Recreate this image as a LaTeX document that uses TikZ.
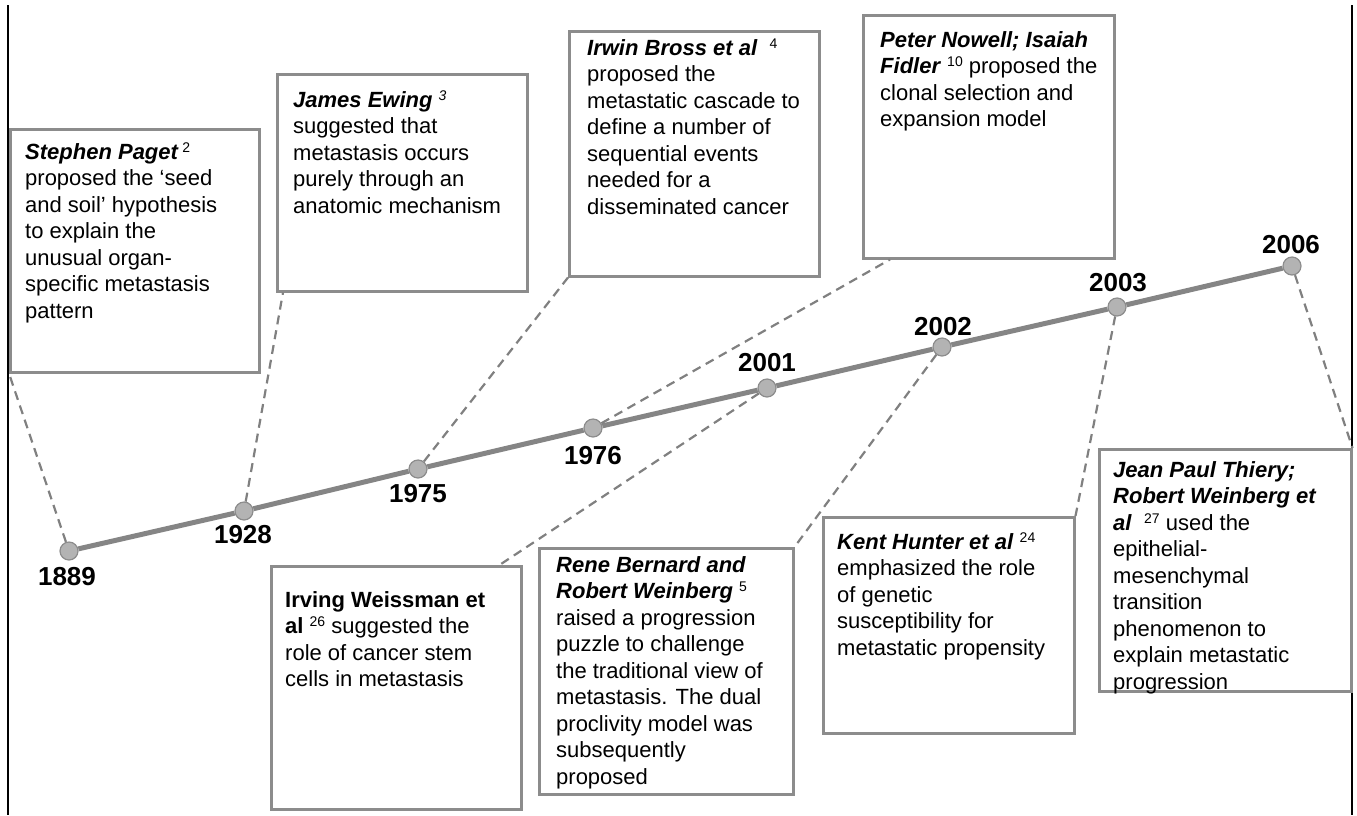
\documentclass[tikz,border=0pt]{standalone}
\usepackage{fontspec}
\setmainfont{Liberation Sans}
\usetikzlibrary{calc}
\definecolor{boxgray}{HTML}{8C8C8C}
\definecolor{linegray}{HTML}{858585}
\definecolor{dotfill}{HTML}{B3B3B3}
\definecolor{dotdraw}{HTML}{8C8C8C}
\definecolor{dashgray}{HTML}{808080}
\newcommand\refnum[1]{\raisebox{7pt}{\fontsize{14pt}{14pt}\selectfont #1}}
\newcommand\fs{\rule{0pt}{18pt}}
\tikzset{
  box/.style={draw=boxgray, line width=2.5pt, anchor=north west, inner sep=0, fill=none},
  txt/.style={anchor=north west, inner sep=0, align=left, font=\fontsize{22pt}{26.5pt}\selectfont},
  dot/.style={circle, fill=dotfill, draw=dotdraw, line width=1.2pt, minimum size=18pt, inner sep=0},
  year/.style={inner sep=0, font=\fontsize{26pt}{28pt}\selectfont\bfseries},
  timeline/.style={draw=linegray, line width=5pt},
  link/.style={draw=dashgray, line width=2.2pt, dash pattern=on 9pt off 6pt},
  edge/.style={draw=black, line width=1.6pt}
}
\begin{document}
\begin{tikzpicture}[x=1pt,y=-1pt]
\useasboundingbox (0,0) rectangle (1357,815);
\coordinate (lt) at (8,5);
\coordinate (lb) at (8,815);
\coordinate (rt) at (1352,5);
\coordinate (rb) at (1352,815);
\draw[edge] (lt) -- (lb);
\draw[edge] (rt) -- (rb);

% boxes
\node[box, minimum width=249pt, minimum height=243pt] (paget) at (9,128) {};
\node[box, minimum width=250pt, minimum height=217pt] (ewing) at (276,73) {};
\node[box, minimum width=250pt, minimum height=245pt] (bross) at (568,30) {};
\node[box, minimum width=251pt, minimum height=243pt] (nowell) at (862,14) {};
\node[box, minimum width=250pt, minimum height=243pt] (weissman) at (270,565) {};
\node[box, minimum width=254pt, minimum height=246pt] (bernard) at (538,547) {};
\node[box, minimum width=251pt, minimum height=216pt] (hunter) at (822,516) {};
\node[box, minimum width=252pt, minimum height=242pt] (thiery) at (1098,448) {};

% texts
\node[txt] (tpaget) at (25,141) {\fs\textbf{\textit{Stephen Paget}}\,\refnum{2}\\
proposed the ‘seed\\ and soil’ hypothesis\\ to explain the\\ unusual organ-\\ specific metastasis\\ pattern};
\node[txt] (tewing) at (293,89) {\fs\textbf{\textit{James Ewing}} \refnum{\textit{3}}\\
suggested that\\ metastasis occurs\\ purely through an\\ anatomic mechanism};
\node[txt] (tbross) at (587,37) {\fs\textbf{\textit{Irwin Bross et al}}\ \ \refnum{4}\\
proposed the\\ metastatic cascade to\\ define a number of\\ sequential events\\ needed for a\\ disseminated cancer};
\node[txt] (tnowell) at (880,29) {\fs\textbf{\textit{Peter Nowell; Isaiah}}\\
\textbf{\textit{Fidler}} \refnum{10} proposed the\\ clonal selection and\\ expansion model};
\node[txt] (tweissman) at (285,589) {\fs\textbf{Irving Weissman et}\\
\textbf{al} \refnum{26} suggested the\\ role of cancer stem\\ cells in metastasis};
\node[txt] (tbernard) at (556,554) {\fs\textbf{\textit{Rene Bernard and}}\\
\textbf{\textit{Robert Weinberg}} \refnum{5}\\ raised a progression\\ puzzle to challenge\\ the traditional view of\\ metastasis. The dual\\ proclivity model was\\ subsequently\\ proposed};
\node[txt] (thunter) at (837,531) {\fs\textbf{\textit{Kent Hunter et al}} \refnum{24}\\
emphasized the role\\ of genetic\\ susceptibility for\\ metastatic propensity};
\node[txt] (tthiery) at (1113,459) {\fs\textbf{\textit{Jean Paul Thiery;}}\\
\textbf{\textit{Robert Weinberg et}}\\ \textbf{\textit{al}}\ \ \refnum{27} used the\\ epithelial-\\ mesenchymal\\ transition\\ phenomenon to\\ explain metastatic\\ progression};

% timeline dots
\node[dot] (c1889) at (69,551) {};
\node[dot] (c1928) at (244,511) {};
\node[dot] (c1975) at (418,469) {};
\node[dot] (c1976) at (593,428) {};
\node[dot] (c2001) at (767,388) {};
\node[dot] (c2002) at (942,347) {};
\node[dot] (c2003) at (1117,307) {};
\node[dot] (c2006) at (1292,266) {};
\draw[timeline] (c1889) -- (c1928) -- (c1975) -- (c1976) -- (c2001) -- (c2002) -- (c2003) -- (c2006);

% year labels
\node[year] (l1889) at (67,577) {1889};
\node[year] (l1928) at (243,535) {1928};
\node[year] (l1975) at (418,494) {1975};
\node[year] (l1976) at (593,456) {1976};
\node[year] (l2001) at (767,363) {2001};
\node[year] (l2002) at (943,327) {2002};
\node[year] (l2003) at (1118,283) {2003};
\node[year] (l2006) at (1291,245) {2006};

% dashed connectors
\draw[link] (c1889) -- (paget.south west);
\draw[link] (c1928) -- ([xshift=7pt]ewing.south west);
\draw[link] (c1975) -- (bross.south west);
\draw[link] (c1976) -- ([xshift=28pt]nowell.south west);
\draw[link] (c2001) -- ([xshift=-23pt]weissman.north east);
\draw[link] (c2002) -- (bernard.north east);
\draw[link] (c2003) -- (hunter.north east);
\draw[link] (c2006) -- (thiery.north east);
\end{tikzpicture}
\end{document}
